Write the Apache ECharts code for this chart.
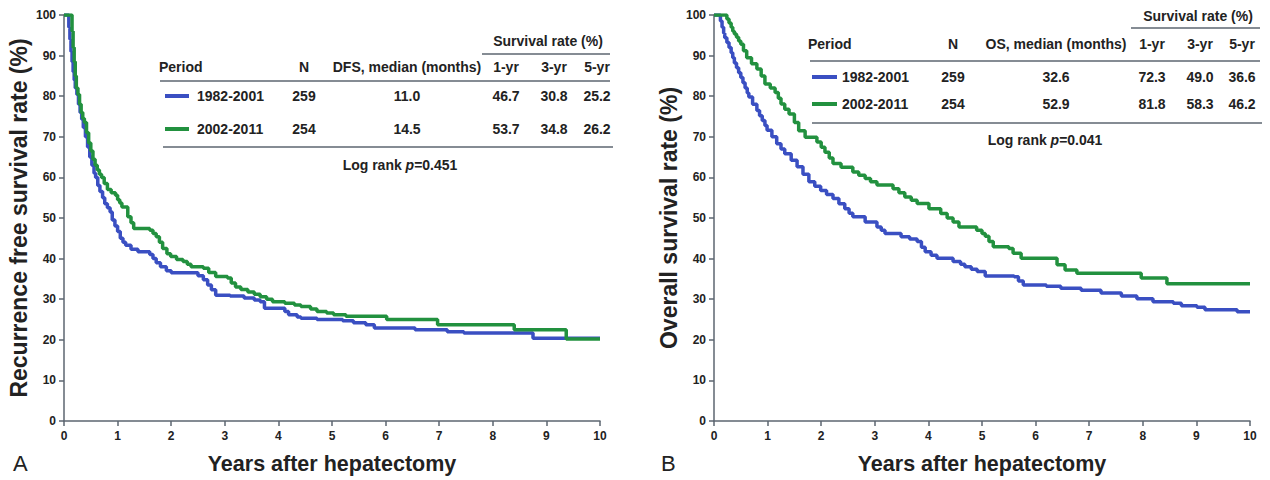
<!DOCTYPE html>
<html>
<head>
<meta charset="utf-8">
<script src="https://cdn.jsdelivr.net/npm/echarts@6/dist/echarts.min.js"></script>
<style>
html,body{margin:0;padding:0;background:#fff;}
#main{width:1270px;height:480px;}
</style>
</head>
<body>
<div id="main"></div>
<script>
// ---------- DATA ----------
const periods = ['1982-2001', '2002-2011'];
const xTicks = [0,1,2,3,4,5,6,7,8,9,10];

// Recurrence-free survival (panel A): [years, survival %]
const dfsEarly = [[0,100],[0.07,100],[0.09,97],[0.11,94],[0.13,91],[0.15,88.5],[0.17,86],[0.19,84],[0.21,82],[0.24,80.4],[0.27,78],[0.3,76],[0.33,74.3],[0.36,72.3],[0.4,70],[0.44,67.5],[0.48,65],[0.52,63],[0.56,61],[0.59,60],[0.63,58],[0.67,56.5],[0.72,55],[0.76,53.5],[0.81,52.5],[0.86,51.5],[0.9,49.5],[0.95,48],[1.0,46.7],[1.05,45],[1.1,44],[1.15,43.3],[1.25,42.3],[1.38,41.7],[1.6,41],[1.66,40],[1.72,39],[1.8,38],[1.91,37],[2.0,36.5],[2.5,35.8],[2.6,34.8],[2.68,33.5],[2.75,32.3],[2.83,31],[3.1,30.8],[3.36,30.3],[3.55,29.8],[3.66,29.4],[3.74,27.8],[4.12,27],[4.19,26.2],[4.35,25.6],[4.42,25.3],[4.72,25],[5.2,24.7],[5.4,24.2],[5.63,23.7],[5.79,22.9],[6.55,22.5],[7.15,22],[7.46,21.7],[8.75,20.4],[10,20.4]];
const dfsLate = [[0,100],[0.13,100],[0.15,96],[0.17,92],[0.19,88.5],[0.21,85],[0.23,82],[0.26,80.4],[0.29,78],[0.32,76],[0.35,74.5],[0.38,73.5],[0.42,71],[0.46,68.5],[0.5,66.5],[0.54,64.5],[0.58,63],[0.62,61.8],[0.66,60.8],[0.7,60],[0.75,58.5],[0.81,57],[0.88,56.2],[0.96,55.6],[1.0,54.5],[1.04,53.7],[1.08,52.7],[1.19,50.3],[1.25,48.8],[1.3,47.4],[1.6,47],[1.66,46.2],[1.72,45.4],[1.78,44],[1.84,42.5],[1.92,41.2],[1.99,40.5],[2.1,39.8],[2.22,39.3],[2.3,38.6],[2.37,38],[2.6,37.6],[2.7,36.6],[2.83,35.6],[3.05,35.2],[3.12,34],[3.2,33],[3.3,32.4],[3.43,31.8],[3.55,31.2],[3.66,30.6],[3.78,30],[3.89,29.4],[4.12,29],[4.3,28.6],[4.42,28.2],[4.6,27.6],[4.72,27],[4.9,26.6],[5.03,26.2],[5.26,25.8],[6.02,25],[6.97,23.7],[8.4,22.5],[9.37,20.2],[10,20.2]];

// Overall survival (panel B): [years, survival %]
const osEarly = [[0,100],[0.09,100],[0.12,98.5],[0.15,97],[0.18,95.5],[0.2,94.4],[0.24,93.2],[0.28,92],[0.32,90.7],[0.35,89.5],[0.38,88.2],[0.42,87],[0.46,85.8],[0.5,84.6],[0.54,83.3],[0.58,82],[0.62,80.8],[0.65,79.8],[0.72,78],[0.8,76.5],[0.85,75.2],[0.9,74],[0.95,72.8],[0.99,71.6],[1.08,70],[1.17,68.3],[1.25,67],[1.32,65.8],[1.44,64.2],[1.55,62.6],[1.66,60.8],[1.77,58.9],[1.88,57.8],[1.99,56.8],[2.1,55.8],[2.22,54.8],[2.33,53.5],[2.44,52.3],[2.52,51.2],[2.59,50.3],[2.82,49],[3.04,47.8],[3.12,47],[3.19,46.2],[3.49,45.4],[3.65,44.8],[3.79,44.2],[3.87,42.8],[3.94,41.7],[4.05,40.8],[4.16,40.1],[4.46,39.3],[4.6,38.6],[4.68,38],[4.8,37.4],[4.91,36.8],[5.06,35.7],[5.6,35.5],[5.68,34.5],[5.77,33.5],[6.2,33.2],[6.47,32.7],[6.85,32.2],[7.22,31.5],[7.6,30.8],[7.89,30.1],[8.19,29.4],[8.57,29],[8.72,28.4],[9.01,28],[9.16,27.4],[9.76,26.9],[10,26.9]];
const osLate = [[0,100],[0.2,100],[0.24,99],[0.28,98],[0.32,97],[0.35,96],[0.38,95.3],[0.42,94.5],[0.46,93.6],[0.5,92.8],[0.55,91.2],[0.61,89.5],[0.7,88],[0.8,86.7],[0.88,85],[0.95,83],[1.05,82],[1.14,80.9],[1.2,79.5],[1.25,78.1],[1.32,76.8],[1.4,75.6],[1.5,73.5],[1.58,71.5],[1.7,69.9],[1.92,68.7],[2.0,67.4],[2.07,66.2],[2.15,64.8],[2.22,63.4],[2.37,62.5],[2.59,61.3],[2.7,60.5],[2.82,59.7],[2.92,58.9],[3.04,58.1],[3.34,57.2],[3.45,56.2],[3.56,55.2],[3.68,54.4],[3.79,53.6],[4.01,52.3],[4.23,51.1],[4.35,50],[4.46,49],[4.57,47.8],[4.9,47],[5.0,46.2],[5.06,45.5],[5.13,44.2],[5.21,42.9],[5.5,42.5],[5.58,41.3],[5.73,40.1],[6.4,38.5],[6.55,37.2],[6.77,36.4],[7.97,35.2],[8.45,33.8],[10,33.8]];

// Table contents
const dfsHeader = ['Period', 'N', 'DFS, median (months)', '1-yr', '3-yr', '5-yr'];
const dfsRows = [['259', '11.0', '46.7', '30.8', '25.2'], ['254', '14.5', '53.7', '34.8', '26.2']];
const dfsP = '0.451';
const osHeader = ['Period', 'N', 'OS, median (months)', '1-yr', '3-yr', '5-yr'];
const osRows = [['259', '32.6', '72.3', '49.0', '36.6'], ['254', '52.9', '81.8', '58.3', '46.2']];
const osP = '0.041';
const rateTitle = 'Survival rate (%)';
const panelTitles = ['A', 'B'];
const yTitles = ['Recurrence free survival rate (%)', 'Overall survival rate (%)'];
const xTitle = 'Years after hepatectomy';

// ---------- STYLE / LAYOUT ----------
const FONT = '"Liberation Sans", Arial, sans-serif';
const TXT = '#222';
const RULE = '#5c6670';
const colors = ['#3a4fc2', '#22913f'];
const TFONT = 'bold 14px ' + FONT;

const chart = echarts.init(document.getElementById('main'), null, {renderer: 'svg'});

function axisX(idx, name) {
  return {
    gridIndex: idx, type: 'value', min: 0, max: 10, interval: 1,
    name: name, nameLocation: 'middle', nameGap: 32,
    nameTextStyle: {fontFamily: FONT, fontSize: 21.5, fontWeight: 'bold', color: TXT},
    axisLine: {show: true, onZero: false, lineStyle: {color: RULE, width: 1.5}},
    axisTick: {show: true, inside: false, length: 5, lineStyle: {color: RULE, width: 1.5}},
    axisLabel: {fontFamily: FONT, fontSize: 12, fontWeight: 'bold', color: TXT, margin: 9},
    splitLine: {show: false}
  };
}
function axisY(idx, name) {
  return {
    gridIndex: idx, type: 'value', min: 0, max: 100, interval: 10,
    name: name, nameLocation: 'middle', nameGap: 34,
    nameTextStyle: {fontFamily: FONT, fontSize: 23, fontWeight: 'bold', color: TXT},
    axisLine: {show: true, lineStyle: {color: RULE, width: 1.5}},
    axisTick: {show: true, inside: false, length: 5, lineStyle: {color: RULE, width: 1.5}},
    axisLabel: {fontFamily: FONT, fontSize: 12, fontWeight: 'bold', color: TXT, margin: 8},
    splitLine: {show: false}
  };
}
function curve(idx, data, color) {
  return {
    type: 'line', xAxisIndex: idx, yAxisIndex: idx, data: data, step: 'end',
    showSymbol: false, symbol: 'none', animation: false,
    lineStyle: {color: color, width: 3.5}, z: 3
  };
}

// table builder
function txt(x, y, s, align) {
  return {
    type: 'text', x: x, y: y, silent: true,
    style: {text: s, fill: TXT, font: TFONT, align: align || 'left', verticalAlign: 'middle'}
  };
}
function rule(x1, x2, y, color, w) {
  return {type: 'line', silent: true, shape: {x1: x1, y1: y, x2: x2, y2: y}, style: {stroke: color || RULE, lineWidth: w || 1.5}};
}
function table(L, header, rows, pval) {
  const g = [];
  g.push(txt(L.rateX, L.rateY, rateTitle, 'center'));
  g.push(rule(L.rateL1, L.rateL2, L.rateLineY));
  g.push(txt(L.periodX, L.headY, header[0], 'left'));
  for (let c = 1; c < header.length; c++) g.push(txt(L.cols[c - 1], L.headY, header[c], 'center'));
  g.push(rule(L.l1, L.l2, L.headLineY));
  rows.forEach((r, i) => {
    const y = L.rowY[i];
    g.push(rule(L.legX1, L.legX2, y, colors[i], 4));
    g.push(txt(L.labelX, y, periods[i], 'left'));
    r.forEach((v, c) => g.push(txt(L.cols[c], y, v, 'center')));
  });
  g.push(rule(L.b1, L.b2, L.botLineY));
  g.push({
    type: 'text', x: L.pX, y: L.pY, silent: true,
    style: {
      text: '{n|Log rank }{i|p}{n|=' + pval + '}', align: 'center', verticalAlign: 'middle',
      rich: {
        n: {font: TFONT, fill: TXT, color: TXT},
        i: {font: 'italic ' + TFONT, fill: TXT, color: TXT}
      }
    }
  });
  return g;
}

const layA = {
  rateX: 548, rateY: 41, rateL1: 482, rateL2: 610, rateLineY: 54,
  periodX: 159, headY: 67, cols: [304, 407, 506, 554, 597],
  l1: 160, l2: 610, headLineY: 81,
  rowY: [96, 129], legX1: 165, legX2: 189, labelX: 197,
  b1: 163, b2: 613, botLineY: 147, pX: 400, pY: 165
};
const layB = {
  rateX: 1198, rateY: 16, rateL1: 1131, rateL2: 1260, rateLineY: 28,
  periodX: 808, headY: 44, cols: [953, 1056, 1152, 1200, 1242],
  l1: 810, l2: 1260, headLineY: 61,
  rowY: [77, 104], legX1: 812, legX2: 837, labelX: 842,
  b1: 812, b2: 1262, botLineY: 123, pX: 1045, pY: 140
};

const graphics = []
  .concat(table(layA, dfsHeader, dfsRows, dfsP))
  .concat(table(layB, osHeader, osRows, osP))
  .concat([
    {type: 'text', x: 13, y: 463, silent: true, style: {text: panelTitles[0], fill: TXT, font: '22px ' + FONT, verticalAlign: 'middle'}},
    {type: 'text', x: 661, y: 463, silent: true, style: {text: panelTitles[1], fill: TXT, font: '22px ' + FONT, verticalAlign: 'middle'}}
  ]);

chart.setOption({
  backgroundColor: '#fff',
  animation: false,
  grid: [
    {left: 64, top: 15, width: 536, height: 408},
    {left: 714, top: 15, width: 536, height: 408}
  ],
  xAxis: [axisX(0, xTitle), axisX(1, xTitle)],
  yAxis: [axisY(0, yTitles[0]), axisY(1, yTitles[1])],
  series: [
    curve(0, dfsEarly, colors[0]),
    curve(0, dfsLate, colors[1]),
    curve(1, osEarly, colors[0]),
    curve(1, osLate, colors[1])
  ],
  graphic: graphics
});
</script>
</body>
</html>
